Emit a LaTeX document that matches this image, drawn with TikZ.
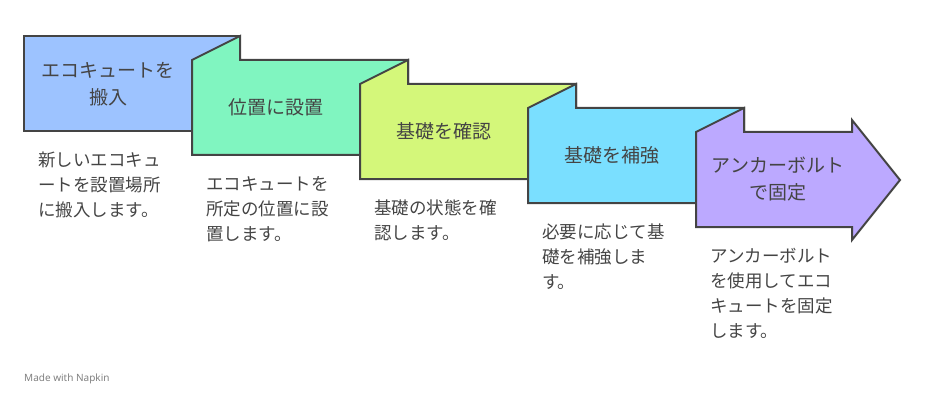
\documentclass[tikz,border=0pt]{standalone}
\usepackage{fontspec}
\setmainfont{Noto Sans CJK JP}
\newfontfamily\latinfont{Noto Sans}
\definecolor{cA}{HTML}{9DC3FF}
\definecolor{cB}{HTML}{80F5C0}
\definecolor{cC}{HTML}{D4F77A}
\definecolor{cD}{HTML}{7ADFFF}
\definecolor{cE}{HTML}{BCA9FF}
\definecolor{ink}{HTML}{444444}
\tikzset{
  boxline/.style={draw=ink,line width=2pt,line join=miter},
  lbl/.style={text=ink,font=\fontsize{19}{27}\selectfont,align=center},
  desc/.style={text=ink,font=\fontsize{17.5}{25}\selectfont,align=left,anchor=north west,inner sep=0pt}
}
\begin{document}
\begin{tikzpicture}[x=1pt,y=-1pt]
\useasboundingbox (0,0) rectangle (925,406);
\draw[boxline,fill=cA] (24,36) rectangle (240,131);
\draw[boxline,fill=cB] (192,60) -- (240,36) -- (240,60) -- (408,60) -- (408,155) -- (192,155) -- cycle;
\draw[boxline,fill=cC] (360,84) -- (408,60) -- (408,84) -- (576,84) -- (576,179) -- (360,179) -- cycle;
\draw[boxline,fill=cD] (528,108) -- (576,84) -- (576,108) -- (744,108) -- (744,203) -- (528,203) -- cycle;
\draw[boxline,fill=cE] (696,132) -- (744,108) -- (744,132) -- (852,132) -- (852,120) -- (900,180) -- (852,240) -- (852,227) -- (696,227) -- cycle;
\node[lbl] (t1) at (108,84) {エコキュートを\\搬入};
\node[lbl] (t2) at (276,107) {位置に設置};
\node[lbl] (t3) at (444,131) {基礎を確認};
\node[lbl] (t4) at (612,155) {基礎を補強};
\node[lbl] (t5) at (778,179) {アンカーボルト\\で固定};
\node[desc] (d1) at (38,152) {新しいエコキュ\\ートを設置場所\\に搬入します。};
\node[desc] (d2) at (206,176) {エコキュートを\\所定の位置に設\\置します。};
\node[desc] (d3) at (374,200) {基礎の状態を確\\認します。};
\node[desc] (d4) at (542,224) {必要に応じて基\\礎を補強しま\\す。};
\node[desc] (d5) at (710,248) {アンカーボルト\\を使用してエコ\\キュートを固定\\します。};
\node[anchor=west,inner sep=0pt,text=gray,font=\latinfont\fontsize{10}{12}\selectfont] (nap) at (24,379) {Made with \textbf{Napkin}};
\end{tikzpicture}
\end{document}
